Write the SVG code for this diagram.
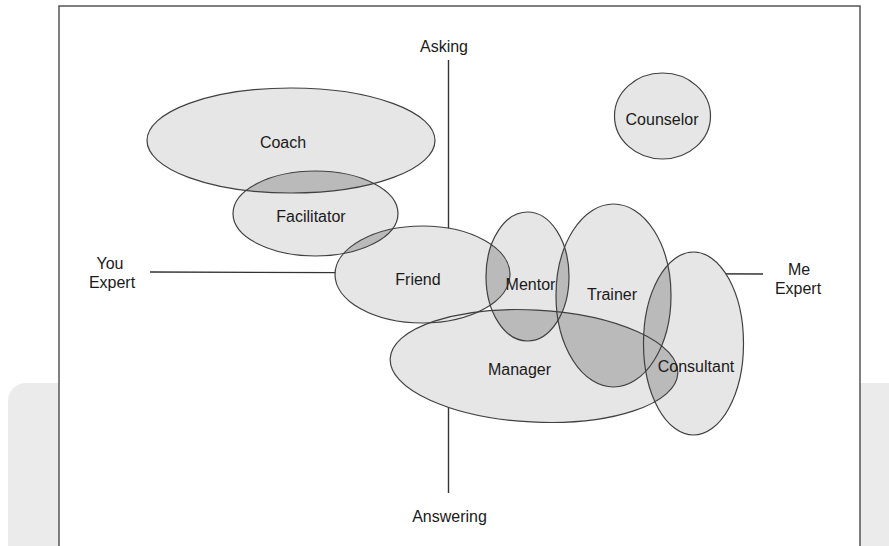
<svg xmlns="http://www.w3.org/2000/svg" xmlns:xlink="http://www.w3.org/1999/xlink" width="889" height="546" viewBox="0 0 889 546">
  <style>
    .frame { fill: #ffffff; stroke: #555555; stroke-width: 1.5; }
    .axis { stroke: #333333; stroke-width: 1.4; fill: none; }
    .fill { fill: #e6e6e6; stroke: none; }
    .overlap { fill: #bababa; stroke: none; }
    .edge { fill: none; stroke: #404040; stroke-width: 1.2; }
    text { font-family: "Liberation Sans", Arial, sans-serif; font-size: 16px; fill: #1a1a1a; text-anchor: middle; }
  </style>
  <defs>
    <ellipse id="e-coach" cx="291" cy="140.5" rx="144" ry="52.5"/>
    <ellipse id="e-facilitator" cx="315.5" cy="213.5" rx="82.5" ry="42.5"/>
    <ellipse id="e-friend" cx="422.5" cy="274.5" rx="87.5" ry="48.5"/>
    <ellipse id="e-mentor" cx="527.5" cy="276.5" rx="41.5" ry="64.5"/>
    <ellipse id="e-trainer" cx="613.5" cy="295.5" rx="57.5" ry="91.5"/>
    <ellipse id="e-consultant" cx="693.5" cy="343.5" rx="50" ry="91.5"/>
    <ellipse id="e-manager" cx="534" cy="366" rx="144" ry="56" transform="rotate(3 534 366)"/>
    <ellipse id="e-counselor" cx="662.5" cy="116" rx="48" ry="43"/>

    <clipPath id="c-coach"><use xlink:href="#e-coach"/></clipPath>
    <clipPath id="c-facilitator"><use xlink:href="#e-facilitator"/></clipPath>
    <clipPath id="c-friend"><use xlink:href="#e-friend"/></clipPath>
    <clipPath id="c-mentor"><use xlink:href="#e-mentor"/></clipPath>
    <clipPath id="c-trainer"><use xlink:href="#e-trainer"/></clipPath>
    <clipPath id="c-manager"><use xlink:href="#e-manager"/></clipPath>
  </defs>

  <!-- page backdrop -->
  <rect x="0" y="0" width="889" height="546" fill="#ffffff"/>
  <rect x="8" y="383" width="900" height="200" rx="18" fill="#ebebeb"/>
  <rect class="frame" x="59" y="6" width="801" height="560"/>

  <!-- axes -->
  <g id="connectors">
    <line class="axis" x1="448.5" y1="60" x2="448.5" y2="493"/>
    <line class="axis" x1="150" y1="272" x2="763" y2="274"/>
  </g>

  <!-- role fills -->
  <g id="fills">
    <use class="fill" xlink:href="#e-coach"/>
    <use class="fill" xlink:href="#e-facilitator"/>
    <use class="fill" xlink:href="#e-friend"/>
    <use class="fill" xlink:href="#e-mentor"/>
    <use class="fill" xlink:href="#e-trainer"/>
    <use class="fill" xlink:href="#e-consultant"/>
    <use class="fill" xlink:href="#e-manager"/>
    <use class="fill" xlink:href="#e-counselor"/>
  </g>

  <!-- shared areas between neighbouring roles -->
  <g id="overlaps">
    <use class="overlap" xlink:href="#e-facilitator" clip-path="url(#c-coach)"/>
    <use class="overlap" xlink:href="#e-friend" clip-path="url(#c-facilitator)"/>
    <use class="overlap" xlink:href="#e-mentor" clip-path="url(#c-friend)"/>
    <use class="overlap" xlink:href="#e-trainer" clip-path="url(#c-mentor)"/>
    <use class="overlap" xlink:href="#e-manager" clip-path="url(#c-mentor)"/>
    <use class="overlap" xlink:href="#e-manager" clip-path="url(#c-trainer)"/>
    <use class="overlap" xlink:href="#e-consultant" clip-path="url(#c-trainer)"/>
    <use class="overlap" xlink:href="#e-consultant" clip-path="url(#c-manager)"/>
  </g>

  <!-- outlines -->
  <g id="coach"><use class="edge" xlink:href="#e-coach"/><text x="283" y="148">Coach</text></g>
  <g id="facilitator"><use class="edge" xlink:href="#e-facilitator"/><text x="311" y="222">Facilitator</text></g>
  <g id="friend"><use class="edge" xlink:href="#e-friend"/><text x="418" y="285">Friend</text></g>
  <g id="mentor"><use class="edge" xlink:href="#e-mentor"/></g>
  <g id="trainer"><use class="edge" xlink:href="#e-trainer"/><text x="612" y="300">Trainer</text></g>
  <g id="consultant"><use class="edge" xlink:href="#e-consultant"/></g>
  <g id="manager"><use class="edge" xlink:href="#e-manager"/><text x="519.5" y="375">Manager</text></g>
  <g id="counselor"><use class="edge" xlink:href="#e-counselor"/><text x="662" y="125">Counselor</text></g>

  <!-- labels that sit across outlines -->
  <g id="labels">
    <text x="530.5" y="290">Mentor</text>
    <text x="696" y="372">Consultant</text>
    <text x="444" y="52">Asking</text>
    <text x="449.5" y="522">Answering</text>
    <text x="110" y="269">You</text>
    <text x="112" y="288">Expert</text>
    <text x="799" y="275">Me</text>
    <text x="798" y="294">Expert</text>
  </g>
</svg>
